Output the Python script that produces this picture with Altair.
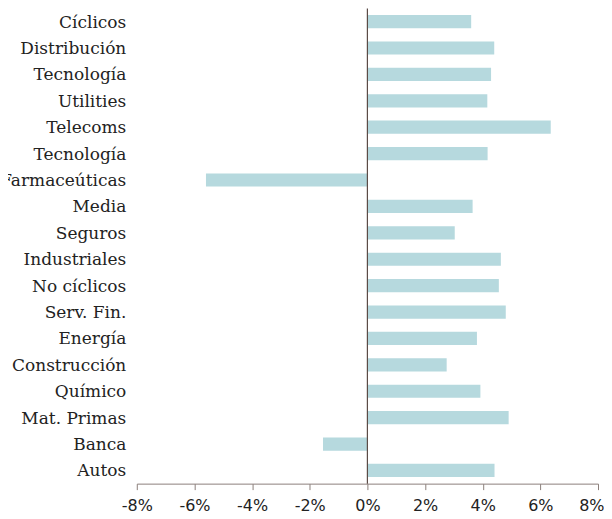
import altair as alt
import pandas as pd

categories = ["Cíclicos", "Distribución", "Tecnología", "Utilities", "Telecoms",
              "Tecnología", "Farmaceúticas", "Media", "Seguros", "Industriales",
              "No cíclicos", "Serv. Fin.", "Energía", "Construcción", "Químico",
              "Mat. Primas", "Banca", "Autos"]
values = [3.6, 4.4, 4.29, 4.16, 6.36, 4.17, -5.6, 3.65, 3.03, 4.63,
          4.56, 4.8, 3.8, 2.75, 3.92, 4.9, -1.54, 4.41]
x_ticks = [-8, -6, -4, -2, 0, 2, 4, 6, 8]

df = pd.DataFrame({"idx": list(range(len(categories))), "cat": categories, "val": values})

label_arr = "[" + ",".join("'" + c + "'" for c in categories) + "]"

bars = alt.Chart(df).mark_bar(color="#b6d9de").encode(
    x=alt.X("val:Q", scale=alt.Scale(domain=[-8, 8], nice=False),
            axis=alt.Axis(values=x_ticks, labelExpr="datum.value + '%'", grid=False,
                          domainColor="#8c807b", tickColor="#8c807b", tickSize=6,
                          labelFont="DejaVu Sans", labelFontSize=16, labelColor="#222222",
                          labelPadding=8, labelFlush=False, labelOverlap=False,
                          labelAlign={"condition": {"test": "datum.value == 8", "value": "right"},
                                      "value": "center"},
                          labelOffset={"condition": {"test": "datum.value == 8", "value": 6},
                                       "value": 0},
                          title=None)),
    y=alt.Y("idx:O", scale=alt.Scale(paddingInner=0.5, paddingOuter=0.25),
            axis=alt.Axis(labelExpr=label_arr + "[datum.value]", ticks=False, domain=False,
                          labelFont="DejaVu Serif", labelFontSize=17, labelColor="#222222",
                          labelPadding=11, labelLimit=0, labelOffset=1, title=None)),
)

zero = alt.Chart(pd.DataFrame({"z": [0]})).mark_rule(color="#5a4a45", strokeWidth=1.2).encode(
    x="z:Q"
)

chart = (bars + zero).properties(
    width=462, height=476,
    autosize=alt.AutoSizeParams(type="none"),
    padding={"left": 129, "top": 0, "right": 6, "bottom": 30},
).configure_view(stroke=None)

chart.save("out.html", embed_options={"renderer": "svg", "actions": False})
